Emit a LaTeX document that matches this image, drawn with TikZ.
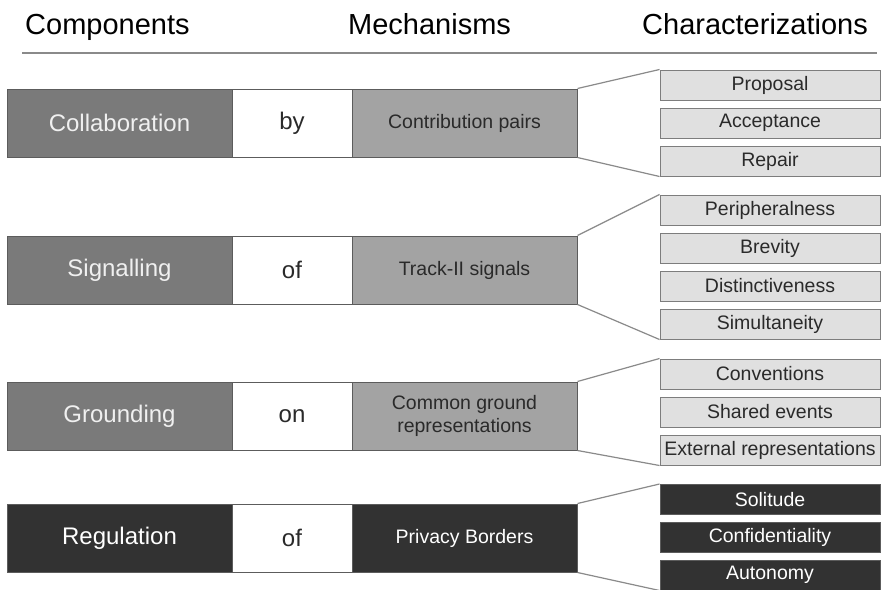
\documentclass[tikz,border=0pt]{standalone}
\usepackage{fontspec}
\setmainfont{Liberation Sans}
\definecolor{compfill}{HTML}{7A7A7A}
\definecolor{mechfill}{HTML}{A3A3A3}
\definecolor{charfill}{HTML}{E0E0E0}
\definecolor{darkfill}{HTML}{323232}
\definecolor{edgegray}{HTML}{5C5C5C}
\definecolor{rulegray}{HTML}{8A8A8A}
\definecolor{inktext}{HTML}{2A2A2A}
\begin{document}
\begin{tikzpicture}[x=1pt,y=-1pt,
  rowbox/.style={draw=edgegray, line width=1pt, minimum height=68pt, inner sep=0pt, align=center},
  compbox/.style={rowbox, fill=compfill, text=white!94!black, minimum width=225pt, font=\fontsize{24}{28}\selectfont},
  linkbox/.style={rowbox, fill=white, text=inktext, minimum width=120pt, font=\fontsize{24}{28}\selectfont},
  mechbox/.style={rowbox, fill=mechfill, text=inktext, minimum width=225pt, font=\fontsize{19.5}{23}\selectfont},
  darkcomp/.style={compbox, fill=darkfill, text=white},
  darkmech/.style={mechbox, fill=darkfill, text=white},
  charbox/.style={draw=edgegray!80, line width=1pt, fill=charfill, text=inktext, minimum width=220pt, minimum height=30pt, inner sep=0pt, font=\fontsize{19.5}{23}\selectfont},
  darkchar/.style={charbox, draw=edgegray, fill=darkfill, text=white},
  fan/.style={draw=rulegray, line width=1.2pt},
  heading/.style={anchor=base west, inner sep=0pt, text=black, font=\fontsize{29}{34}\selectfont}
]
\useasboundingbox (0,0) rectangle (883,589);
\fill[white] (0,0) rectangle (883,589);

% column headings and rule
\node[heading] (hcomp) at (25,34) {Components};
\node[heading] (hmech) at (348,34) {Mechanisms};
\node[heading] (hchar) at (642,34) {Characterizations};
\coordinate (ruleL) at (22,53);
\coordinate (ruleR) at (877,53);
\draw[rulegray, line width=2pt] (ruleL) -- (ruleR);

% row 1: collaboration
\node[compbox] (c1) at (119.5,123) {Collaboration};
\node[linkbox] (l1) at (292,123) {by};
\node[mechbox] (m1) at (464.5,123) {Contribution pairs};
\node[charbox] (p1) at (770,85) {Proposal};
\node[charbox] (p2) at (770,123) {Acceptance};
\node[charbox] (p3) at (770,161) {Repair};
\draw[fan] (m1.north east) -- (p1.north west);
\draw[fan] (m1.south east) -- (p3.south west);

% row 2: signalling
\node[compbox] (c2) at (119.5,270) {Signalling};
\node[linkbox] (l2) at (292,270) {of};
\node[mechbox] (m2) at (464.5,270) {Track-II signals};
\node[charbox] (s1) at (770,210) {Peripheralness};
\node[charbox] (s2) at (770,248) {Brevity};
\node[charbox] (s3) at (770,286) {Distinctiveness};
\node[charbox] (s4) at (770,324) {Simultaneity};
\draw[fan] (m2.north east) -- (s1.north west);
\draw[fan] (m2.south east) -- (s4.south west);

% row 3: grounding
\node[compbox] (c3) at (119.5,416) {Grounding};
\node[linkbox] (l3) at (292,416) {on};
\node[mechbox] (m3) at (464.5,416) {Common ground\\representations};
\node[charbox] (g1) at (770,374) {Conventions};
\node[charbox] (g2) at (770,412) {Shared events};
\node[charbox] (g3) at (770,450) {External representations};
\draw[fan] (m3.north east) -- (g1.north west);
\draw[fan] (m3.south east) -- (g3.south west);

% row 4: regulation
\node[darkcomp] (c4) at (119.5,538) {Regulation};
\node[linkbox] (l4) at (292,538) {of};
\node[darkmech] (m4) at (464.5,538) {Privacy Borders};
\node[darkchar] (r1) at (770,499.5) {Solitude};
\node[darkchar] (r2) at (770,537) {Confidentiality};
\node[darkchar] (r3) at (770,575) {Autonomy};
\draw[fan] (m4.north east) -- (r1.north west);
\draw[fan] (m4.south east) -- (r3.south west);
\end{tikzpicture}
\end{document}
